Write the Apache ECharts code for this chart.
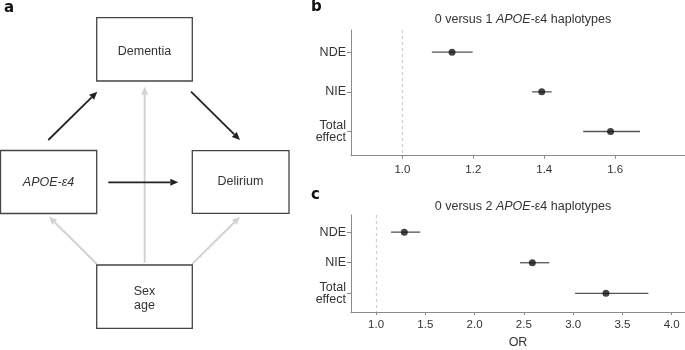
<!DOCTYPE html>
<html>
<head>
<meta charset="utf-8">
<script src="https://cdn.jsdelivr.net/npm/echarts@6/dist/echarts.min.js"></script>
<style>
body{margin:0;background:#fff;}
#main{width:685px;height:350px;}
</style>
</head>
<body>
<div id="main"></div>
<script>
// effect rows (top to bottom)
var categories = ['NDE', 'NIE', 'Total\neffect']

// b: 0 versus 1 APOE-e4 haplotypes
var orOne = [1.14, 1.393, 1.587]
var lowOne = [1.083, 1.366, 1.51]
var highOne = [1.198, 1.421, 1.67]
var ticksOne = [1.0, 1.2, 1.4, 1.6]

// c: 0 versus 2 APOE-e4 haplotypes
var orTwo = [1.287, 2.586, 3.333]
var lowTwo = [1.152, 2.461, 3.02]
var highTwo = [1.449, 2.758, 3.763]
var ticksTwo = [1.0, 1.5, 2.0, 2.5, 3.0, 3.5, 4.0]

var FONT = 'Liberation Sans'
var BLACK = '#222'
var GREY = '#d2d2d2'

// ---- panel a: the diagram ----
function box(x, y, w, h){
	return {type: 'rect', shape: {x: x, y: y, width: w, height: h},
		style: {fill: '#fff', stroke: '#444', lineWidth: 1.3}, z: 10}
}
function label(x, y, text, italic){
	return {type: 'text', x: x, y: y, z: 12,
		style: {text: text, fill: '#333', font: (italic ? 'italic ' : '') + '12.5px ' + FONT,
			textAlign: 'center', textVerticalAlign: 'middle', lineHeight: 14}}
}
function arrow(x1, y1, x2, y2, color, lw){
	var ang = Math.atan2(y2 - y1, x2 - x1)
	var len = 8, half = 3.5
	var bx = x2 - len * Math.cos(ang), by = y2 - len * Math.sin(ang)
	var px = -Math.sin(ang) * half, py = Math.cos(ang) * half
	return [
		{type: 'line', z: color === BLACK ? 6 : 4,
			shape: {x1: x1, y1: y1, x2: bx, y2: by},
			style: {stroke: color, lineWidth: lw}},
		{type: 'polygon', z: color === BLACK ? 6 : 4,
			shape: {points: [[x2, y2], [bx + px, by + py], [bx - px, by - py]]},
			style: {fill: color}}
	]
}

var graphics = [
	box(96.7, 17.7, 95.6, 63.3),
	box(0.5, 150.5, 96.2, 63),
	box(192.3, 150.7, 96.7, 62.6),
	box(96.7, 265, 95.6, 63.3),
	label(144.5, 51.7, 'Dementia'),
	label(48.5, 182.5, 'APOE-ε4', true),
	label(240.5, 182, 'Delirium'),
	label(144.5, 298.5, 'Sex\nage'),
	{type: 'text', x: 4, y: 1, style: {text: 'a', fill: '#111', font: 'bold 15px DejaVu Sans'}},
	{type: 'text', x: 311, y: 0, style: {text: 'b', fill: '#111', font: 'bold 15px DejaVu Sans'}},
	{type: 'text', x: 311, y: 188, style: {text: 'c', fill: '#111', font: 'bold 15px DejaVu Sans'}}
]
graphics = graphics
	.concat(arrow(144.7, 262.7, 144.7, 86.7, GREY, 2))
	.concat(arrow(96.7, 264, 49, 216.7, GREY, 2))
	.concat(arrow(192.3, 264, 240, 216.7, GREY, 2))
	.concat(arrow(48.3, 140, 97.3, 91.7, BLACK, 1.8))
	.concat(arrow(191, 91.7, 240, 140, BLACK, 1.8))
	.concat(arrow(108.3, 182.3, 178.3, 182.3, BLACK, 1.8))

// ---- panels b and c: forest plots ----
function xAxisOf(idx, min, max, ticks, margin, name){
	return {
		type: 'value', gridIndex: idx, min: min, max: max,
		splitLine: {show: false},
		axisLine: {onZero: false, lineStyle: {color: '#8a8a8a', width: 1}},
		axisTick: {length: 3, customValues: ticks, lineStyle: {color: '#8a8a8a'}},
		axisLabel: {customValues: ticks, margin: margin, color: '#333', fontSize: 11.5, fontFamily: FONT,
			formatter: function(v){ return v.toFixed(1) }},
		name: name, nameLocation: 'middle', nameGap: 24,
		nameTextStyle: {color: '#333', fontSize: 12.5, fontFamily: FONT}
	}
}
function yAxisOf(idx){
	return {
		type: 'value', gridIndex: idx, inverse: true, min: -0.56, max: 2.61,
		splitLine: {show: false},
		axisLine: {show: true, onZero: false, lineStyle: {color: '#8a8a8a', width: 1}},
		axisTick: {show: true, length: 4, customValues: [0, 1, 2], lineStyle: {color: '#8a8a8a'}},
		axisLabel: {customValues: [0, 1, 2], margin: 5, color: '#333', fontSize: 12.5, fontFamily: FONT,
			lineHeight: 12.5, formatter: function(v){ return categories[Math.round(v)] }}
	}
}
function whiskers(idx, low, high){
	return {
		type: 'custom', xAxisIndex: idx, yAxisIndex: idx,
		data: low.map(function(l, i){ return [i, l, high[i]] }),
		encode: {x: [1, 2], y: 0},
		renderItem: function(params, api){
			var a = api.coord([api.value(1), api.value(0)])
			var b = api.coord([api.value(2), api.value(0)])
			return {type: 'line', shape: {x1: a[0], y1: a[1], x2: b[0], y2: b[1]},
				style: {stroke: '#555', lineWidth: 1.3}}
		},
		z: 3
	}
}
function points(idx, or){
	return {
		type: 'scatter', xAxisIndex: idx, yAxisIndex: idx,
		data: or.map(function(v, i){ return [v, i] }),
		symbolSize: 7, itemStyle: {color: '#151515'}, z: 5,
		markLine: {
			silent: true, symbol: ['none', 'none'], label: {show: false},
			lineStyle: {type: [3, 3], color: '#cfcfcf', width: 1.2},
			data: [{xAxis: 1}]
		}
	}
}

var titleRich = {i: {fontStyle: 'italic', fontSize: 12.5, color: '#333', fontFamily: FONT}}
var option = {
	animation: false,
	textStyle: {fontFamily: FONT},
	title: [
		{text: '0 versus 1 {i|APOE}-ε4 haplotypes', left: 518, top: 8, textAlign: 'center',
			textStyle: {fontSize: 12.5, fontWeight: 'normal', color: '#333', fontFamily: FONT, rich: titleRich}},
		{text: '0 versus 2 {i|APOE}-ε4 haplotypes', left: 518, top: 195, textAlign: 'center',
			textStyle: {fontSize: 12.5, fontWeight: 'normal', color: '#333', fontFamily: FONT, rich: titleRich}}
	],
	grid: [
		{left: 351, right: 0, top: 30, height: 125.7},
		{left: 351, right: 0, top: 215, height: 98.3}
	],
	xAxis: [
		xAxisOf(0, 0.855, 1.797, ticksOne, 8, ''),
		xAxisOf(1, 0.746, 4.135, ticksTwo, 7, 'OR')
	],
	yAxis: [yAxisOf(0), yAxisOf(1)],
	series: [
		whiskers(0, lowOne, highOne), points(0, orOne),
		whiskers(1, lowTwo, highTwo), points(1, orTwo)
	],
	graphic: graphics
}

var myChart = echarts.init(document.getElementById('main'), null, {renderer: 'canvas'})
myChart.setOption(option)
</script>
</body>
</html>
